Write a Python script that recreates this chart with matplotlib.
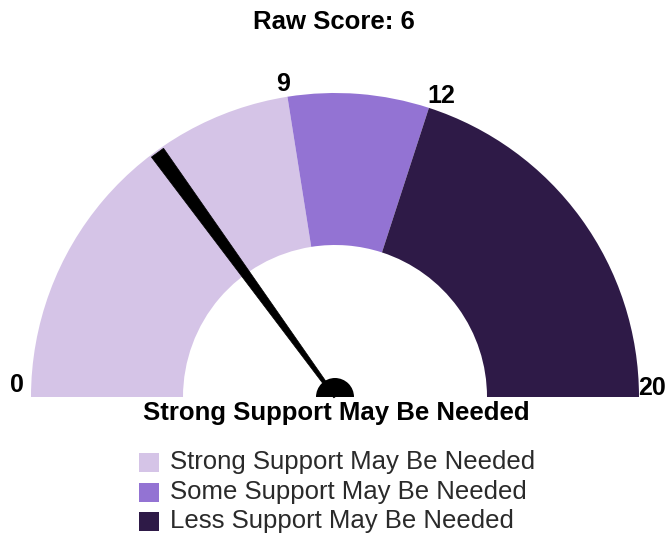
import numpy as np
import matplotlib
matplotlib.use("Agg")
import matplotlib.pyplot as plt
from matplotlib.patches import Wedge, Polygon, Rectangle

# ---- data ----
band_edges = [0, 9, 12, 20]
band_labels = ["Strong Support May Be Needed", "Some Support May Be Needed", "Less Support May Be Needed"]
band_colors = ["#d5c4e7", "#9373d3", "#2e1a47"]
tick_values = [0, 9, 12, 20]
score = 6
title = "Raw Score: 6"
status = "Strong Support May Be Needed"

W, H = 671, 538
fig = plt.figure(figsize=(W / 100, H / 100), dpi=100)
ax = fig.add_axes([0, 0, 1, 1])
ax.set_xlim(0, W)
ax.set_ylim(0, H)
ax.axis("off")

cx, cy = 335, H - 397
r_out, r_in = 304, 152
vmin, vmax = band_edges[0], band_edges[-1]

def ang(v):
    return 180 - (v - vmin) / (vmax - vmin) * 180

for (a, b), c in zip(zip(band_edges[:-1], band_edges[1:]), band_colors):
    ax.add_patch(Wedge((cx, cy), r_out, ang(b), ang(a), width=r_out - r_in,
                       facecolor=c, edgecolor="none"))

bold = dict(family=["Liberation Sans Narrow", "Liberation Sans", "DejaVu Sans"], fontweight="bold")

# tick labels
tick_pos = {0: (17, 385), 9: (283, 84), 12: (441, 96), 20: (652, 388)}
for v in tick_values:
    x, y = tick_pos[v]
    ax.text(x, H - y, str(v), ha="center", va="center", fontsize=18, **bold)

# needle
t = np.deg2rad(ang(score))
d = np.array([np.cos(t), np.sin(t)])
n = np.array([-d[1], d[0]])
tip_len = r_out - 2
base = np.array([cx, cy])
tip = base + d * tip_len
w_tip, w_base = 7.5, 1.5
pts = [base + n * w_base, tip + n * w_tip, tip - n * w_tip, base - n * w_base]
ax.add_patch(Polygon(pts, closed=True, facecolor="black", edgecolor="black", lw=0.5))
ax.add_patch(Wedge((cx, cy), 19, 0, 180, facecolor="black", edgecolor="none"))

# titles
ax.text(334, H - 22, title, ha="center", va="center", fontsize=18.5, **bold)
ax.text(336, H - 413, status, ha="center", va="center", fontsize=18.5, **bold)

# legend
leg_y = [462, 492, 521]
for lab, c, y in zip(band_labels, band_colors, leg_y):
    ax.add_patch(Rectangle((139, H - y - 10), 20, 19, facecolor=c, edgecolor="none"))
    ax.text(170, H - y, lab, ha="left", va="center", fontsize=18.5,
            family=["Liberation Sans", "DejaVu Sans"], color="#2a2a2a")

fig.savefig("out.png", dpi=100, facecolor="white")
